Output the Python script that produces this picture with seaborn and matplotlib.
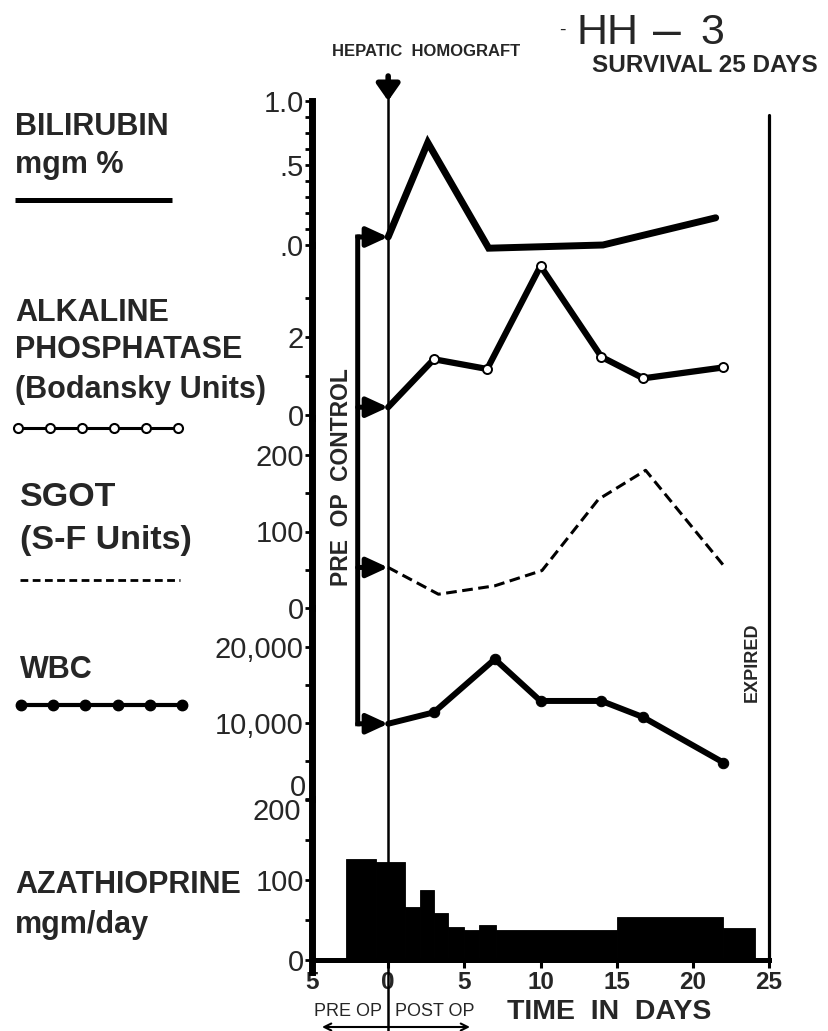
import numpy as np
import matplotlib.pyplot as plt
import matplotlib.transforms as mtransforms
from matplotlib.patches import ConnectionPatch
import seaborn as sns

# --- data (days after homograft) ---
bili_day = [0, 2.6, 6.6, 14.1, 21.5]
bili_val = [0.05, 0.64, -0.02, 0.0, 0.17]          # relative to the ".0" tick

alk_day = [0, 3, 6.5, 10, 14, 16.75, 22]
alk_val = [0.2, 1.43, 1.18, 3.82, 1.49, 0.94, 1.22]

sgot_day = [0, 3.3, 7, 10.1, 13.8, 16.9, 22]
sgot_val = [53, 18, 29, 49, 142, 180, 56]

wbc_day = [0, 3, 7, 10, 14, 16.7, 22]
wbc_val = [9900, 11400, 18400, 12900, 12900, 10800, 4800]

aza_edges = [-2.8, -0.8, 1.1, 2.1, 3.0, 3.9, 5.0, 5.95, 7.05, 15.0, 22.0, 24.1]
aza_dose = [126, 122, 66, 88, 59, 41, 37, 44, 38, 54, 40]

x_ticks = [-5, 0, 5, 10, 15, 20, 25]
x_tick_labels = ['5', '0', '5', '10', '15', '20', '25']

sns.set_style('white')
plt.rcParams['font.family'] = ['Liberation Sans', 'DejaVu Sans']

W, H = 829, 1031
fig = plt.figure(figsize=(W / 100, H / 100), dpi=100)
X_LEFT, X_RIGHT = 312, 769


def add_panel(top, bottom, zero, per_unit):
    ax = fig.add_axes([X_LEFT / W, 1 - bottom / H, (X_RIGHT - X_LEFT) / W, (bottom - top) / H])
    ax.set_xlim(-5, 25)
    ax.set_ylim((zero - bottom) / per_unit, (zero - top) / per_unit)
    ax.patch.set_alpha(0)
    for s in ['top', 'right', 'bottom']:
        ax.spines[s].set_visible(False)
    ax.spines['left'].set_linewidth(5)
    ax.spines['left'].set_color('black')
    ax.tick_params(axis='y', which='both', direction='out', left=True, length=5, width=2,
                   labelsize=21, pad=1, color='black')
    ax.tick_params(axis='x', bottom=False, labelbottom=False)
    return ax


ax_bili = add_panel(101, 245, 245, 160)
ax_alk = add_panel(245, 418, 415, 39)
ax_sgot = add_panel(418, 608, 608, 0.765)
ax_wbc = add_panel(608, 799, 799, 0.0076)
ax_aza = add_panel(799, 972, 960, 0.8)

# series
sns.lineplot(x=bili_day, y=bili_val, ax=ax_bili, color='black', linewidth=5,
             solid_joinstyle='miter', clip_on=False)
sns.lineplot(x=alk_day, y=alk_val, ax=ax_alk, color='black', linewidth=4.5, marker='o',
             markersize=6.5, mfc='white', mec='black', mew=1.4,
             markevery=list(range(1, len(alk_day))), clip_on=False)
sns.lineplot(x=sgot_day, y=sgot_val, ax=ax_sgot, color='black', linewidth=2.2,
             linestyle=(0, (3.5, 1.8)), clip_on=False)
sns.lineplot(x=wbc_day, y=wbc_val, ax=ax_wbc, color='black', linewidth=4.3, marker='o',
             markersize=7.5, mfc='black', mec='black',
             markevery=list(range(1, len(wbc_day))), clip_on=False)
aza_mid = (np.array(aza_edges[:-1]) + np.array(aza_edges[1:])) / 2
sns.histplot(x=aza_mid, weights=aza_dose, bins=aza_edges, ax=ax_aza, color='black',
             alpha=1, edgecolor='black', linewidth=0.6, legend=False)

# y ticks
ax_bili.set_yticks([0, 0.5, 0.9], ['.0', '.5', '1.0'])
ax_bili.set_yticks(np.arange(0.1, 0.9, 0.1), minor=True)
ax_alk.set_yticks([0, 2], ['0', '2'])
ax_alk.set_yticks([1, 3], minor=True)
ax_sgot.set_yticks([0, 100, 200], ['0', '100', '200'])
ax_sgot.set_yticks([50, 150], minor=True)
ax_wbc.set_yticks([0, 10000, 20000], ['', '10,000', '20,000'])
ax_wbc.set_yticks([5000, 15000], minor=True)
ax_aza.set_yticks([0, 100, 200], ['0', '100', ''])
ax_aza.set_yticks([50, 150], minor=True)
ax_wbc.annotate('0', xy=(0, 0), xycoords=('axes fraction', 'data'), xytext=(-4, 8),
                textcoords='offset points', ha='right', va='center', fontsize=21)
ax_aza.annotate('200', xy=(0, 200), xycoords=('axes fraction', 'data'), xytext=(-8, -9),
                textcoords='offset points', ha='right', va='center', fontsize=21)

for ax in [ax_bili, ax_alk, ax_sgot, ax_wbc, ax_aza]:
    ax.set_xlim(-5, 25)
    ax.set_xlabel('')
    ax.set_ylabel('')
ax_aza.set_ylim(-15, 201.25)

# x axis on the azathioprine panel
ax_aza.spines['bottom'].set_visible(True)
ax_aza.spines['bottom'].set_position(('data', 0))
ax_aza.spines['bottom'].set_linewidth(3.6)
ax_aza.spines['bottom'].set_color('black')
ax_aza.set_xticks(x_ticks, x_tick_labels)
ax_aza.tick_params(axis='x', bottom=True, labelbottom=True, direction='out', length=6,
                   width=2.2, pad=2, color='black')
for lab in ax_aza.get_xticklabels():
    lab.set_fontsize(17.5)
    lab.set_fontweight('bold')

# overlay in pixel coordinates for annotations
ov = fig.add_axes([0, 0, 1, 1], zorder=5)
ov.set_xlim(0, W)
ov.set_ylim(H, 0)
ov.axis('off')
ov.patch.set_alpha(0)
day_px = mtransforms.blended_transform_factory(ax_aza.transData, ov.transData)

ov.plot([0, 0], [95, H], transform=day_px, color='black', lw=1.8, clip_on=False)
ov.plot([25, 25], [115, 960], transform=day_px, color='black', lw=2.3, clip_on=False)
ov.annotate('', xy=(0, 101), xytext=(0, 76), xycoords=day_px, textcoords=day_px,
            arrowprops=dict(arrowstyle='-|>,head_length=0.5,head_width=0.35', lw=4,
                            color='black', shrinkA=0, shrinkB=0, mutation_scale=20))

# pre op control bracket
for ax, first in [(ax_bili, bili_val[0]), (ax_alk, alk_val[0]),
                  (ax_sgot, sgot_val[0]), (ax_wbc, wbc_val[0])]:
    ax.annotate('', xy=(0, first), xytext=(-2, first),
                arrowprops=dict(arrowstyle='-|>,head_length=0.65,head_width=0.3', lw=3.6,
                                color='black', shrinkA=0, shrinkB=0, mutation_scale=20),
                annotation_clip=False)
con = ConnectionPatch(xyA=(-2, bili_val[0]), coordsA=ax_bili.transData,
                      xyB=(-2, wbc_val[0]), coordsB=ax_wbc.transData,
                      color='black', lw=3.6, capstyle='projecting')
fig.add_artist(con)
ov.text(342, 477, 'PRE  OP  CONTROL', rotation=90, ha='center', va='center',
        fontsize=16.5, fontweight='bold')
ov.text(752, 662, 'EXPIRED', rotation=90, ha='center', va='center', fontsize=13,
        fontweight='bold')

# titles
ov.text(426, 52, 'HEPATIC  HOMOGRAFT', ha='center', va='center', fontsize=12,
        fontweight='bold')
ov.text(562, 30, '-', ha='center', va='center', fontsize=14)
ov.text(577, 33, 'HH', ha='left', va='center', fontsize=31)
ov.text(667, 33, '\u2013', ha='center', va='center', fontsize=36)
ov.text(700, 33, '3', ha='left', va='center', fontsize=31)
ov.text(592, 65, 'SURVIVAL 25 DAYS', ha='left', va='center', fontsize=17.5,
        fontweight='bold')

# left hand labels with line samples
lbl = dict(ha='left', va='center', fontsize=22, fontweight='bold')
ov.text(15, 127, 'BILIRUBIN', **lbl)
ov.text(15, 165, 'mgm %', **lbl)
ov.plot([15, 172], [200, 200], color='black', lw=3.6, solid_capstyle='butt')
ov.text(15, 313, 'ALKALINE', **lbl)
ov.text(15, 350, 'PHOSPHATASE', **lbl)
ov.text(15, 390, '(Bodansky Units)', **lbl)
ov.plot(np.linspace(18, 178, 6), [428] * 6, color='black', lw=2.2, marker='o',
        mfc='white', mec='black', ms=6.5, mew=1.5)
ov.text(20, 497, 'SGOT', ha='left', va='center', fontsize=24.5, fontweight='bold')
ov.text(20, 540, '(S-F Units)', ha='left', va='center', fontsize=24.5, fontweight='bold')
ov.plot([20, 180], [580, 580], color='black', lw=2, linestyle=(0, (2.8, 1.6)))
ov.text(20, 670, 'WBC', **lbl)
ov.plot(np.linspace(21, 182, 6), [705] * 6, color='black', lw=3, marker='o',
        mfc='black', mec='black', ms=7.5)
ov.text(15, 885, 'AZATHIOPRINE', **lbl)
ov.text(15, 925, 'mgm/day', **lbl)

# bottom captions
ov.text(382, 1012, 'PRE OP', ha='right', va='center', fontsize=13)
ov.text(395, 1012, 'POST OP', ha='left', va='center', fontsize=13)
ov.annotate('', xy=(322, 1027), xytext=(470, 1027),
            arrowprops=dict(arrowstyle='<->,head_length=0.5,head_width=0.25', lw=1.5,
                            color='black', shrinkA=0, shrinkB=0))
ov.text(507, 1012, 'TIME  IN  DAYS', ha='left', va='center', fontsize=20.5,
        fontweight='bold')

fig.savefig('out.png', dpi=100)
